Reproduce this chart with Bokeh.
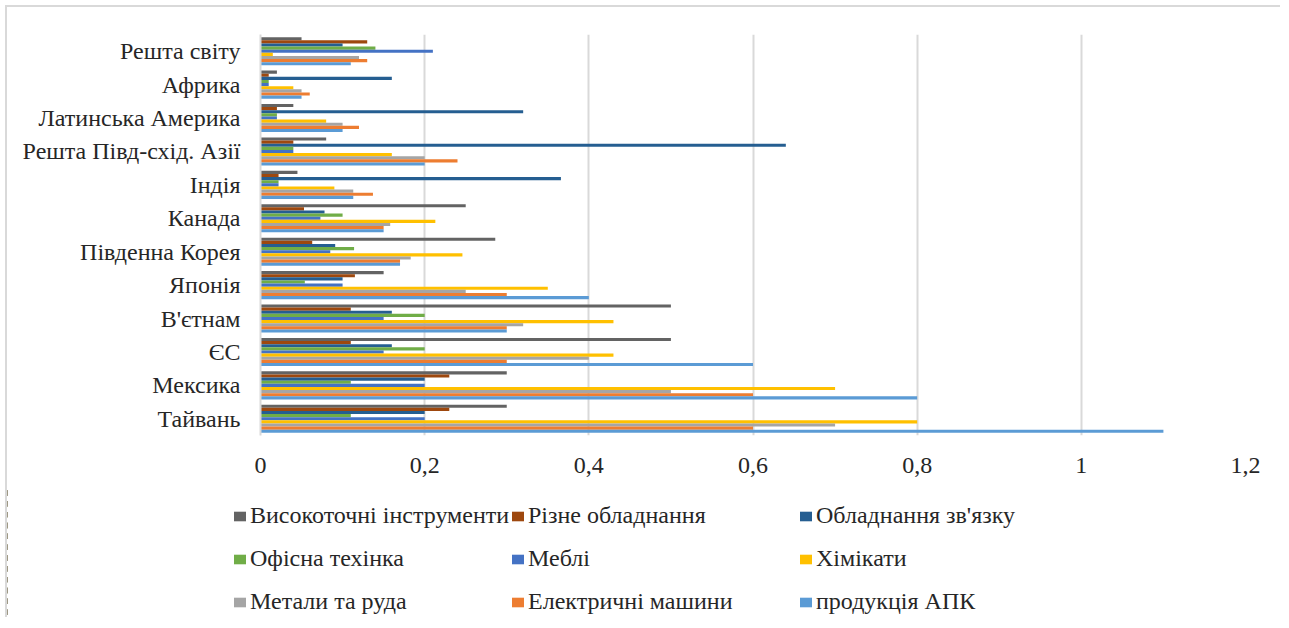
from bokeh.plotting import figure
from bokeh.layouts import column, row
from bokeh.models import (FactorRange, Range1d, FixedTicker, Legend, LegendItem,
                          ColumnDataSource)
from bokeh.transform import dodge
from bokeh.embed import file_html
from bokeh.resources import INLINE

# categories, bottom -> top
categories = ["Тайвань", "Мексика", "ЄС", "В'єтнам", "Японія", "Південна Корея",
              "Канада", "Індія", "Решта Півд-схід. Азії", "Латинська Америка",
              "Африка", "Решта світу"]

series_names = ["Високоточні інструменти", "Різне обладнання", "Обладнання зв'язку",
                "Офісна техінка", "Меблі", "Хімікати",
                "Метали та руда", "Електричні машини", "продукція АПК"]

precision = [0.30, 0.30, 0.50, 0.50, 0.15, 0.286, 0.25, 0.045, 0.08, 0.04, 0.02, 0.05]
misc_equipment = [0.23, 0.23, 0.11, 0.11, 0.115, 0.063, 0.053, 0.022, 0.04, 0.02, 0.01, 0.13]
communication = [0.20, 0.20, 0.16, 0.16, 0.10, 0.091, 0.078, 0.366, 0.64, 0.32, 0.16, 0.10]
office = [0.11, 0.11, 0.20, 0.20, 0.054, 0.114, 0.10, 0.022, 0.04, 0.02, 0.01, 0.14]
furniture = [0.20, 0.20, 0.15, 0.15, 0.10, 0.085, 0.073, 0.022, 0.04, 0.02, 0.01, 0.21]
chemicals = [0.80, 0.70, 0.43, 0.43, 0.35, 0.246, 0.213, 0.09, 0.16, 0.08, 0.04, 0.015]
metals = [0.70, 0.50, 0.40, 0.32, 0.25, 0.183, 0.158, 0.113, 0.20, 0.10, 0.05, 0.12]
electric = [0.60, 0.60, 0.30, 0.30, 0.30, 0.17, 0.15, 0.137, 0.24, 0.12, 0.06, 0.13]
agro = [1.10, 0.80, 0.60, 0.30, 0.40, 0.17, 0.15, 0.113, 0.20, 0.10, 0.05, 0.11]

x_ticks = [0, 0.2, 0.4, 0.6, 0.8, 1.0, 1.2]
x_tick_labels = ["0", "0,2", "0,4", "0,6", "0,8", "1", "1,2"]

series_values = [precision, misc_equipment, communication, office, furniture,
                 chemicals, metals, electric, agro]
colors = ["#636363", "#9E480E", "#255E91", "#70AD47", "#4472C4",
          "#FFC000", "#A5A5A5", "#ED7D31", "#5B9BD5"]

FONT = "Liberation Serif"
TXT = "#262626"
FS = "24px"
BORDER = "2px solid #d9d9d9"

data = {"cat": categories}
for j, vals in enumerate(series_values):
    data[f"s{j}"] = vals
src = ColumnDataSource(data)

p = figure(width=1273, height=480, output_backend="svg", toolbar_location=None,
           y_range=FactorRange(factors=categories, range_padding=0),
           x_range=Range1d(0, 1.2),
           min_border_left=253, min_border_right=35, min_border_top=27,
           min_border_bottom=52)
p.outline_line_color = None
p.border_fill_color = "white"

bh = 0.0935
for j in range(9):
    p.hbar(y=dodge("cat", (4 - j) * bh, range=p.y_range), left=0,
           right=f"s{j}", height=bh, fill_color=colors[j], line_color=None,
           source=src)

p.xaxis.ticker = FixedTicker(ticks=x_ticks)
p.xaxis.major_label_overrides = {t: l for t, l in zip(x_ticks, x_tick_labels)}
p.xaxis.axis_line_color = None
p.xaxis.major_tick_line_color = None
p.xaxis.minor_tick_line_color = None
p.xaxis.major_tick_out = 0
p.xaxis.major_label_standoff = 22
p.xaxis.major_label_text_font = FONT
p.xaxis.major_label_text_font_size = FS
p.xaxis.major_label_text_color = TXT

p.yaxis.axis_line_color = "#d9d9d9"
p.yaxis.axis_line_width = 2
p.yaxis.major_tick_line_color = None
p.yaxis.major_tick_out = 0
p.yaxis.major_label_standoff = 20
p.yaxis.major_label_text_font = FONT
p.yaxis.major_label_text_font_size = FS
p.yaxis.major_label_text_color = TXT

p.xgrid.grid_line_color = "#d9d9d9"
p.xgrid.grid_line_width = 2
p.ygrid.grid_line_color = None

# legend figure (bars lie outside its visible x range; only the legend shows)
lf = figure(width=1273, height=130, output_backend="svg", toolbar_location=None,
            x_range=Range1d(5, 6), y_range=FactorRange(factors=categories),
            x_axis_type=None, min_border=0)
lf.yaxis.visible = False
lf.outline_line_color = None
lf.grid.grid_line_color = None
lrends = [lf.hbar(y="cat", right=f"s{j}", left=0, height=0.5, fill_color=colors[j],
                  line_color=None, source=src) for j in range(9)]

cols = [[0, 3, 6], [1, 4, 7], [2, 5, 8]]
xoffs = [225, 503, 791]
for c in range(3):
    items = [LegendItem(label=series_names[j], renderers=[lrends[j]]) for j in cols[c]]
    lg = Legend(items=items, location=(xoffs[c], 2), orientation="vertical",
                label_text_font=FONT, label_text_font_size=FS,
                label_text_color=TXT, glyph_width=15, glyph_height=12,
                label_standoff=3, spacing=16, padding=0, margin=0,
                label_height=24, border_line_color=None,
                background_fill_alpha=0)
    lf.add_layout(lg)

top_part = column(p, margin=(5, 0, 0, 5),
                  styles={"border-top": BORDER, "border-left": BORDER})
bottom_part = column(lf, margin=(0, 0, 0, 5), styles={"border-left": BORDER})

open("out.html", "w").write(file_html([top_part, bottom_part], INLINE))
